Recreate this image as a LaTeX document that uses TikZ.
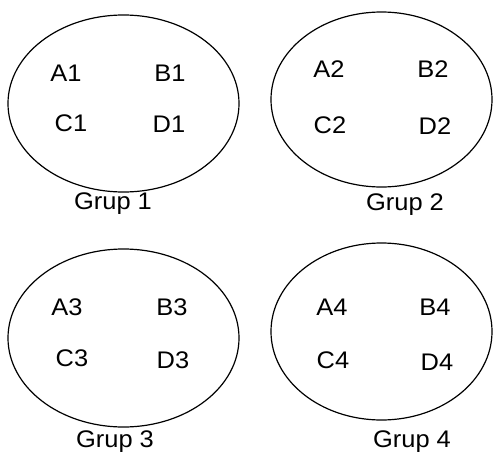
\documentclass[tikz,border=0pt]{standalone}
\usepackage{fontspec}
\setmainfont{Liberation Sans}
\newcommand{\wtext}[1]{\scalebox{1.06}[1]{#1}}
\begin{document}
\begin{tikzpicture}[x=1pt,y=-1pt,
  grp/.style={draw=black,line width=1.2pt,fill=none},
  lbl/.style={font=\fontsize{24}{28}\selectfont,inner sep=0pt,anchor=center}]
\useasboundingbox (0,0) rectangle (493,455);
% ellipses
\draw[grp] (123.5,103.5) ellipse [x radius=115.5, y radius=88.5];
\draw[grp] (381.5,99.5) ellipse [x radius=110.5, y radius=87.5];
\draw[grp] (123.5,338) ellipse [x radius=115.5, y radius=89];
\draw[grp] (381.5,331.5) ellipse [x radius=110.5, y radius=88.5];
% group 1
\node[lbl] (a1) at (66,73) {\wtext{A1}};
\node[lbl] (b1) at (170,73) {\wtext{B1}};
\node[lbl] (c1) at (71,123) {\wtext{C1}};
\node[lbl] (d1) at (169,124) {\wtext{D1}};
\node[lbl] (g1) at (113,204) {\wtext{Grup 1}};
% group 2
\node[lbl] (a2) at (329,69) {\wtext{A2}};
\node[lbl] (b2) at (433,69) {\wtext{B2}};
\node[lbl] (c2) at (330,125) {\wtext{C2}};
\node[lbl] (d2) at (435,126) {\wtext{D2}};
\node[lbl] (g2) at (405,205) {\wtext{Grup 2}};
% group 3
\node[lbl] (a3) at (67,307) {\wtext{A3}};
\node[lbl] (b3) at (172,307) {\wtext{B3}};
\node[lbl] (c3) at (72,358) {\wtext{C3}};
\node[lbl] (d3) at (173,360) {\wtext{D3}};
\node[lbl] (g3) at (115,442) {\wtext{Grup 3}};
% group 4
\node[lbl] (a4) at (332,307) {\wtext{A4}};
\node[lbl] (b4) at (435,307) {\wtext{B4}};
\node[lbl] (c4) at (333,360) {\wtext{C4}};
\node[lbl] (d4) at (437,362) {\wtext{D4}};
\node[lbl] (g4) at (412,442) {\wtext{Grup 4}};
\end{tikzpicture}
\end{document}
